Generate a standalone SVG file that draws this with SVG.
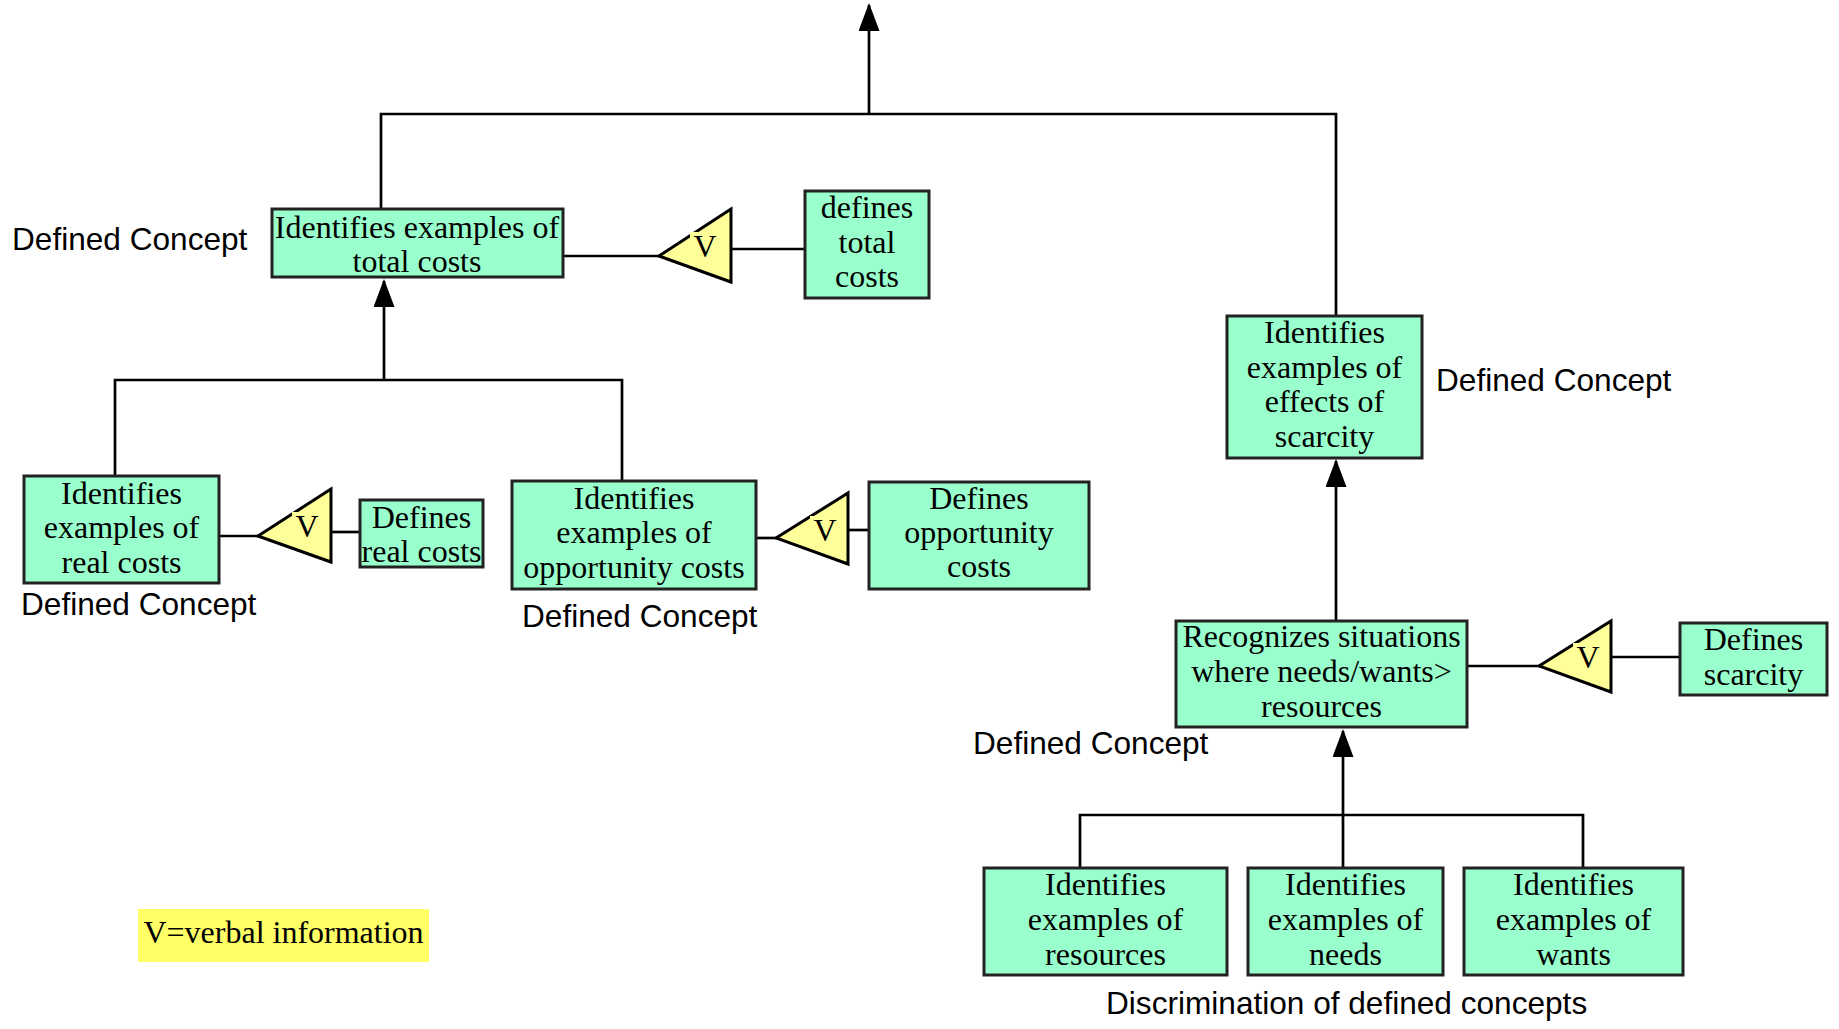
<svg xmlns="http://www.w3.org/2000/svg" width="1839" height="1029" viewBox="0 0 1839 1029">
<defs>
<style>
.box{fill:#99FFCC;stroke:#222;stroke-width:3}
.tri{fill:#FFFF99;stroke:#000;stroke-width:3;stroke-linejoin:miter}
.vbg{fill:#FFFF99;stroke:none}
.t{font-family:"Liberation Serif","Times New Roman",serif;font-size:32px;fill:#000;text-anchor:middle}
.v{font-family:"Liberation Serif","Times New Roman",serif;font-size:32px;fill:#000;text-anchor:middle}
.lab{font-family:"Liberation Sans",Arial,sans-serif;font-size:31.6px;fill:#000}
.ln{fill:none;stroke:#000;stroke-width:2.7}
</style>
<marker id="arrow" viewBox="0 0 28 21" refX="26" refY="10.5" markerWidth="28" markerHeight="21" markerUnits="userSpaceOnUse" orient="auto">
<path d="M0,0 L28,10.5 L0,21 Z" fill="#000"/>
</marker>
</defs>
<rect width="1839" height="1029" fill="#fff"/>

<g id="connectors">
<polyline class="ln" points="381,209 381,114 1336,114 1336,316"/>
<line class="ln" x1="869" y1="114" x2="869" y2="5" marker-end="url(#arrow)"/>
<polyline class="ln" points="115,476 115,380 622,380 622,481"/>
<line class="ln" x1="384" y1="380" x2="384" y2="281" marker-end="url(#arrow)"/>
<line class="ln" x1="1336" y1="621" x2="1336" y2="461" marker-end="url(#arrow)"/>
<polyline class="ln" points="1080,868 1080,815 1583,815 1583,868"/>
<line class="ln" x1="1343" y1="868" x2="1343" y2="731" marker-end="url(#arrow)"/>
<line class="ln" x1="563" y1="256" x2="660" y2="256"/>
<line class="ln" x1="728" y1="249" x2="805" y2="249"/>
<line class="ln" x1="219" y1="536" x2="259" y2="536"/>
<line class="ln" x1="328" y1="532" x2="360" y2="532"/>
<line class="ln" x1="756" y1="538" x2="777" y2="538"/>
<line class="ln" x1="845" y1="530" x2="869" y2="530"/>
<line class="ln" x1="1467" y1="666" x2="1540" y2="666"/>
<line class="ln" x1="1607" y1="657" x2="1680" y2="657"/>
</g>

<g id="n-total">
<rect class="box" x="272" y="209" width="291" height="68"/>
<text class="t" x="417" y="238">Identifies examples of</text>
<text class="t" x="417" y="272">total costs</text>
</g>
<text id="l-total" class="lab" x="12" y="250">Defined Concept</text>

<g id="v-total">
<polygon class="tri" points="659,256 731,209 731,282"/>
<rect class="vbg" x="690" y="232" width="28" height="26"/>
<text class="v" x="705" y="257">V</text>
</g>

<g id="n-deftotal">
<rect class="box" x="805" y="191" width="124" height="107"/>
<text class="t" x="867" y="218">defines</text>
<text class="t" x="867" y="253">total</text>
<text class="t" x="867" y="287">costs</text>
</g>

<g id="n-real">
<rect class="box" x="24" y="476" width="195" height="107"/>
<text class="t" x="121.5" y="504">Identifies</text>
<text class="t" x="121.5" y="538">examples of</text>
<text class="t" x="121.5" y="573">real costs</text>
</g>
<text id="l-real" class="lab" x="21" y="615">Defined Concept</text>

<g id="v-real">
<polygon class="tri" points="258,536 331,489 331,562"/>
<rect class="vbg" x="292" y="512" width="28" height="26"/>
<text class="v" x="307" y="537">V</text>
</g>

<g id="n-defreal">
<rect class="box" x="360" y="500" width="123" height="67"/>
<text class="t" x="421.5" y="528">Defines</text>
<text class="t" x="421.5" y="562">real costs</text>
</g>

<g id="n-opp">
<rect class="box" x="512" y="481" width="244" height="108"/>
<text class="t" x="634" y="509">Identifies</text>
<text class="t" x="634" y="543">examples of</text>
<text class="t" x="634" y="578">opportunity costs</text>
</g>
<text id="l-opp" class="lab" x="522" y="627">Defined Concept</text>

<g id="v-opp">
<polygon class="tri" points="776,538 848,493 848,564"/>
<rect class="vbg" x="810" y="516" width="28" height="26"/>
<text class="v" x="825" y="541">V</text>
</g>

<g id="n-defopp">
<rect class="box" x="869" y="482" width="220" height="107"/>
<text class="t" x="979" y="509">Defines</text>
<text class="t" x="979" y="543">opportunity</text>
<text class="t" x="979" y="577">costs</text>
</g>

<g id="n-effects">
<rect class="box" x="1227" y="316" width="195" height="142"/>
<text class="t" x="1324.5" y="343">Identifies</text>
<text class="t" x="1324.5" y="378">examples of</text>
<text class="t" x="1324.5" y="412">effects of</text>
<text class="t" x="1324.5" y="447">scarcity</text>
</g>
<text id="l-effects" class="lab" x="1436" y="391">Defined Concept</text>

<g id="n-recog">
<rect class="box" x="1176" y="621" width="291" height="106"/>
<text class="t" x="1321.5" y="647">Recognizes situations</text>
<text class="t" x="1321.5" y="682">where needs/wants&gt;</text>
<text class="t" x="1321.5" y="717">resources</text>
</g>
<text id="l-recog" class="lab" x="973" y="754">Defined Concept</text>

<g id="v-scarcity">
<polygon class="tri" points="1539,666 1611,621 1611,692"/>
<rect class="vbg" x="1573" y="643" width="28" height="26"/>
<text class="v" x="1588" y="668">V</text>
</g>

<g id="n-defscarcity">
<rect class="box" x="1680" y="623" width="147" height="72"/>
<text class="t" x="1753.5" y="650">Defines</text>
<text class="t" x="1753.5" y="685">scarcity</text>
</g>

<g id="n-resources">
<rect class="box" x="984" y="868" width="243" height="107"/>
<text class="t" x="1105.5" y="895">Identifies</text>
<text class="t" x="1105.5" y="930">examples of</text>
<text class="t" x="1105.5" y="965">resources</text>
</g>

<g id="n-needs">
<rect class="box" x="1248" y="868" width="195" height="107"/>
<text class="t" x="1345.5" y="895">Identifies</text>
<text class="t" x="1345.5" y="930">examples of</text>
<text class="t" x="1345.5" y="965">needs</text>
</g>

<g id="n-wants">
<rect class="box" x="1464" y="868" width="219" height="107"/>
<text class="t" x="1573.5" y="895">Identifies</text>
<text class="t" x="1573.5" y="930">examples of</text>
<text class="t" x="1573.5" y="965">wants</text>
</g>
<text id="l-discrim" class="lab" x="1106" y="1014">Discrimination of defined concepts</text>

<g id="legend">
<rect x="138" y="909" width="291" height="53" fill="#FFFF66"/>
<text class="t" x="283.5" y="943">V=verbal information</text>
</g>
</svg>
